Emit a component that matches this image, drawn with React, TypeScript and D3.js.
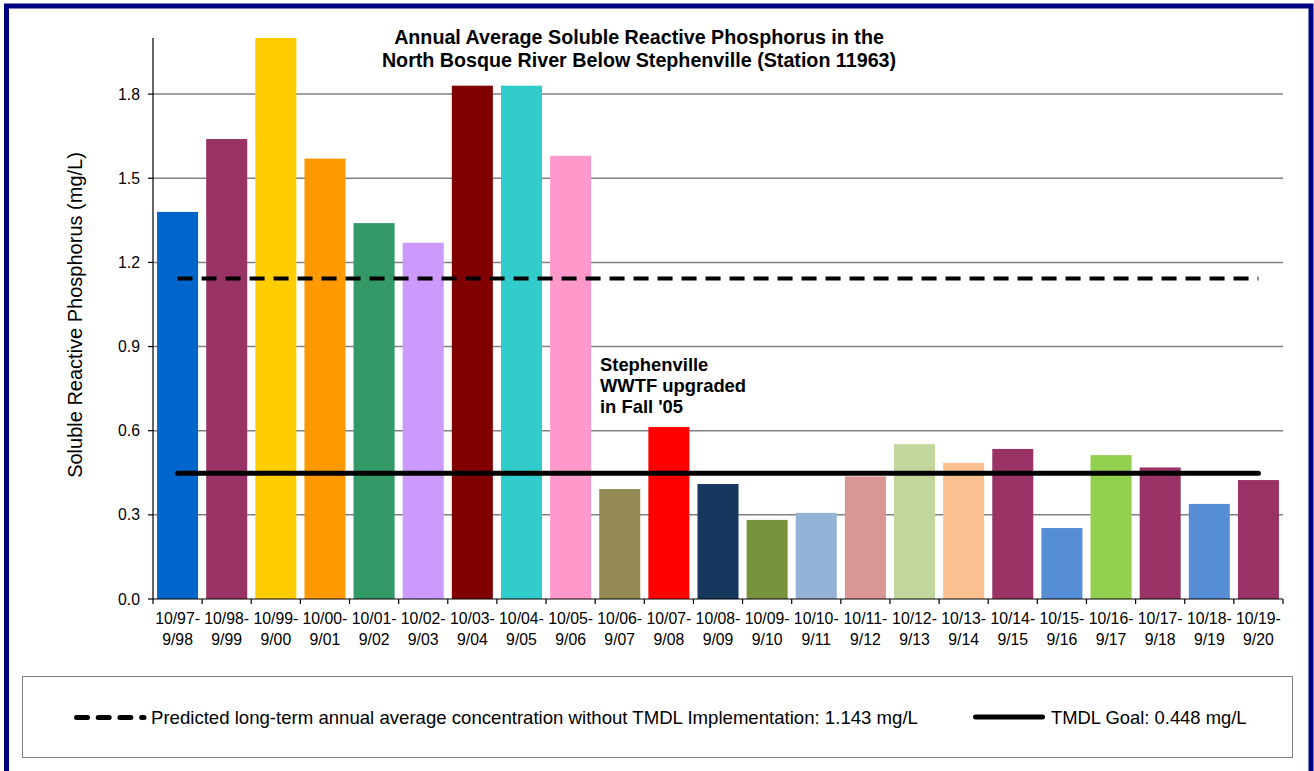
import React, { useEffect } from 'react';
import * as d3 from 'd3';

// water years, split over two label lines
const periodStart = ['10/97-', '10/98-', '10/99-', '10/00-', '10/01-', '10/02-', '10/03-', '10/04-', '10/05-', '10/06-', '10/07-', '10/08-', '10/09-', '10/10-', '10/11-', '10/12-', '10/13-', '10/14-', '10/15-', '10/16-', '10/17-', '10/18-', '10/19-'];
const periodEnd = ['9/98', '9/99', '9/00', '9/01', '9/02', '9/03', '9/04', '9/05', '9/06', '9/07', '9/08', '9/09', '9/10', '9/11', '9/12', '9/13', '9/14', '9/15', '9/16', '9/17', '9/18', '9/19', '9/20'];

// annual average SRP (mg/L)
const srpValues = [1.38, 1.64, 2.0, 1.57, 1.34, 1.27, 1.83, 1.83, 1.58, 0.392, 0.613, 0.41, 0.282, 0.307, 0.437, 0.552, 0.485, 0.535, 0.253, 0.513, 0.469, 0.339, 0.424];

const barColors = ['#0066CC', '#993366', '#FFCC00', '#FF9900', '#339966', '#CC99FF', '#800000', '#33CCCC', '#FF99CC', '#948A54', '#FF0000', '#17375E', '#77933C', '#95B3D7', '#D99694', '#C3D69B', '#FAC090', '#993366', '#558ED5', '#92D050', '#993366', '#558ED5', '#993366'];

const yTicks = [0, 0.3, 0.6, 0.9, 1.2, 1.5, 1.8];

const predictedLevel = 1.143;
const tmdlGoal = 0.448;

const FONT = 'Liberation Sans, Arial, sans-serif';

const W = 1314;
const H = 771;
const plot = { left: 153, right: 1283, top: 38, bottom: 599 };

export default function App() {
  useEffect(() => {
    document.body.style.margin = '0';
  }, []);

  const x = d3.scaleBand<number>()
    .domain(d3.range(srpValues.length))
    .range([plot.left, plot.right])
    .paddingInner(0.165)
    .paddingOuter(0.0825);

  const y = d3.scaleLinear().domain([0, 2]).range([plot.bottom, plot.top]);

  const step = x.step();
  const boundaries = d3.range(srpValues.length + 1).map(i => plot.left + i * step);
  const firstCenter = (x(0) ?? 0) + x.bandwidth() / 2;
  const lastCenter = (x(srpValues.length - 1) ?? 0) + x.bandwidth() / 2;

  const line = d3.line<[number, number]>().x(d => d[0]).y(d => d[1]);

  return (
    <svg width={W} height={H} style={{ display: 'block', background: '#fff' }} fontFamily={FONT}>
      {/* outer frame */}
      <rect x={6.5} y={6} width={1304.5} height={780} fill="#fff" stroke="#000080" strokeWidth={5} />

      {/* gridlines */}
      {yTicks.filter(t => t > 0).map(t => (
        <line key={t} x1={plot.left} x2={plot.right} y1={y(t)} y2={y(t)} stroke="#808080" strokeWidth={1.5} />
      ))}

      {/* bars */}
      {srpValues.map((v, i) => (
        <rect
          key={i}
          x={x(i)}
          y={y(Math.min(v, 2))}
          width={x.bandwidth()}
          height={plot.bottom - y(Math.min(v, 2))}
          fill={barColors[i]}
        />
      ))}

      {/* reference lines */}
      <path
        d={line([[firstCenter, y(predictedLevel)], [lastCenter, y(predictedLevel)]]) ?? ''}
        stroke="#000"
        strokeWidth={4}
        strokeDasharray="15 9"
        fill="none"
      />
      <path
        d={line([[firstCenter, y(tmdlGoal)], [lastCenter, y(tmdlGoal)]]) ?? ''}
        stroke="#000"
        strokeWidth={5}
        strokeLinecap="round"
        fill="none"
      />

      {/* axes */}
      <line x1={plot.left} x2={plot.left} y1={plot.top} y2={plot.bottom} stroke="#000" strokeWidth={1.2} />
      <line x1={plot.left} x2={plot.right} y1={plot.bottom} y2={plot.bottom} stroke="#000" strokeWidth={1.2} />
      {yTicks.map(t => (
        <g key={t}>
          <line x1={plot.left - 5} x2={plot.left} y1={y(t)} y2={y(t)} stroke="#000" strokeWidth={1.2} />
          <text x={plot.left - 13} y={y(t)} dy="0.35em" textAnchor="end" fontSize={15.8} fill="#000">
            {d3.format('.1f')(t)}
          </text>
        </g>
      ))}
      {boundaries.map((bx, i) => (
        <line key={i} x1={bx} x2={bx} y1={plot.bottom} y2={plot.bottom + 5} stroke="#000" strokeWidth={1.2} />
      ))}
      {periodStart.map((s, i) => {
        const cx = (x(i) ?? 0) + x.bandwidth() / 2;
        return (
          <text key={i} x={cx} textAnchor="middle" fontSize={15.8} fill="#000">
            <tspan x={cx} y={624}>{s}</tspan>
            <tspan x={cx} y={645}>{periodEnd[i]}</tspan>
          </text>
        );
      })}

      {/* y axis title */}
      <text
        transform={`translate(82,315) rotate(-90)`}
        textAnchor="middle"
        fontSize={20}
        fill="#000"
      >
        Soluble Reactive Phosphorus (mg/L)
      </text>

      {/* chart title */}
      <text textAnchor="middle" fontSize={19.7} fontWeight="bold" fill="#000">
        <tspan x={639} y={44}>Annual Average Soluble Reactive Phosphorus in the</tspan>
        <tspan x={639} y={67}>North Bosque River Below Stephenville (Station 11963)</tspan>
      </text>

      {/* annotation */}
      <text fontSize={18.4} fontWeight="bold" fill="#000">
        <tspan x={600} y={371}>Stephenville</tspan>
        <tspan x={600} y={392}>WWTF upgraded</tspan>
        <tspan x={600} y={413}>in Fall '05</tspan>
      </text>

      {/* legend */}
      <rect x={22.5} y={676.5} width={1270} height={81} fill="#fff" stroke="#808080" strokeWidth={1} />
      <path d="M76.5,717.5 H144" stroke="#000" strokeWidth={5} strokeDasharray="11 10.7" strokeLinecap="round" />
      <text x={151} y={724} fontSize={18.6} fill="#000">
        Predicted long-term annual average concentration without TMDL Implementation: 1.143 mg/L
      </text>
      <path d="M975.5,717 H1042.5" stroke="#000" strokeWidth={5} strokeLinecap="round" />
      <text x={1051} y={724} fontSize={18.4} fill="#000">
        TMDL Goal: 0.448 mg/L
      </text>
    </svg>
  );
}
